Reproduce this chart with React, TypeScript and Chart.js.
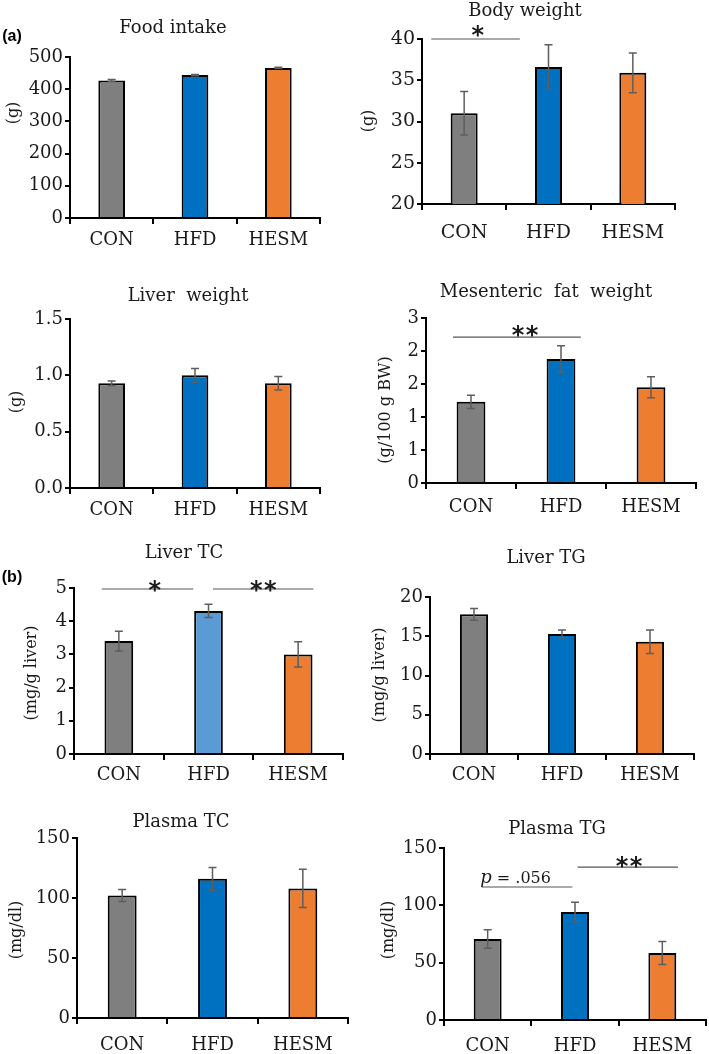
import React, { useEffect, useRef } from 'react';
import { Chart, registerables } from 'chart.js';

Chart.register(...registerables);

// ---------- data ----------
const categories = ['CON', 'HFD', 'HESM'];

const foodIntake = [427, 444, 466];
const foodIntakeErr = [3, 2, 2];

const bodyWeight = [31.0, 36.6, 35.9];
const bodyWeightErr = [2.65, 2.7, 2.4];

const liverWeight = [0.93, 1.0, 0.93];
const liverWeightErr = [0.02, 0.06, 0.06];

const mesentericFat = [1.23, 1.88, 1.45];
const mesentericFatErr = [0.1, 0.2, 0.16];

const liverTC = [3.4, 4.31, 3.0];
const liverTCErr = [0.3, 0.2, 0.38];

const liverTG = [17.8, 15.3, 14.3];
const liverTGErr = [0.75, 0.5, 1.5];

const plasmaTC = [102, 116, 108];
const plasmaTCErr = [5, 9.5, 16];

const plasmaTG = [70.6, 94.2, 58.4];
const plasmaTGErr = [8, 8.5, 10];

const colorsA = ['#7f7f7f', '#0070c0', '#ed7d31'];
const colorsB = ['#7f7f7f', '#5b9bd5', '#ed7d31'];

// significance annotations (x in category units, value in axis units)
const bodyWeightSig = [{ from: -0.39, to: 0.66, value: 40, label: '*', at: 0.16, dy: 8 }];
const mesentericSig = [{ from: -0.2, to: 1.22, value: 2.21, label: '**', at: 0.6, dy: 6 }];
const liverTCSig = [
  { from: -0.19, to: 0.83, value: 4.97, label: '*', at: 0.4, dy: 3 },
  { from: 1.05, to: 2.17, value: 4.97, label: '**', at: 1.61, dy: 3 },
];
const plasmaTGSig = [
  { from: -0.07, to: 0.97, value: 116, label: 'p = .056', at: 0.32, dy: 10 },
  { from: 1.03, to: 2.18, value: 133.4, label: '**', at: 1.62, dy: 5 },
];

type Sig = { from: number; to: number; value: number; label: string; at: number; dy: number };

type Panel = {
  key: string;
  values: number[];
  errors: number[];
  colors: string[];
  min: number;
  max: number;
  step: number;
  fmt?: (v: number) => string;
  sig: Sig[];
  title: string;
  titleXY: [number, number];
  yLabel: string;
  yLabelXY: [number, number];
  tag?: string;
  tagXY?: [number, number];
  canvas: [number, number, number, number]; // left, top, right, bottom
  area: [number, number, number, number];
  xPad: number;
  tickSize: number;
};

const panels: Panel[] = [
  {
    key: 'food', values: foodIntake, errors: foodIntakeErr, colors: colorsA, min: 0, max: 500, step: 100, sig: [],
    title: 'Food intake', titleXY: [173, 28], yLabel: '(g)', yLabelXY: [14, 113], tag: '(a)', tagXY: [12, 37],
    canvas: [0, 0, 354, 262], area: [70, 57, 320, 218], xPad: 6, tickSize: 18,
  },
  {
    key: 'bw', values: bodyWeight, errors: bodyWeightErr, colors: colorsA, min: 20, max: 40, step: 5, sig: bodyWeightSig,
    title: 'Body weight', titleXY: [525, 11], yLabel: '(g)', yLabelXY: [369, 121],
    canvas: [354, 0, 709, 262], area: [422, 39, 675, 204], xPad: 12, tickSize: 19,
  },
  {
    key: 'lw', values: liverWeight, errors: liverWeightErr, colors: colorsA, min: 0, max: 1.5, step: 0.5,
    fmt: (v) => v.toFixed(1), sig: [],
    title: 'Liver  weight', titleXY: [188, 296], yLabel: '(g)', yLabelXY: [17, 402],
    canvas: [0, 262, 354, 530], area: [70, 319, 320, 488], xPad: 6, tickSize: 18,
  },
  {
    key: 'mf', values: mesentericFat, errors: mesentericFatErr, colors: colorsA, min: 0, max: 2.5, step: 0.5,
    fmt: (v) => String(Math.round(v)), sig: mesentericSig,
    title: 'Mesenteric  fat  weight', titleXY: [546, 292], yLabel: '(g/100 g BW)', yLabelXY: [386, 410],
    canvas: [354, 262, 709, 530], area: [426, 318, 696, 483], xPad: 8, tickSize: 18,
  },
  {
    key: 'ltc', values: liverTC, errors: liverTCErr, colors: colorsB, min: 0, max: 5, step: 1, sig: liverTCSig,
    title: 'Liver TC', titleXY: [184, 553], yLabel: '(mg/g liver)', yLabelXY: [32, 673], tag: '(b)', tagXY: [12, 578],
    canvas: [0, 530, 354, 790], area: [74, 588, 343, 754], xPad: 5, tickSize: 18,
  },
  {
    key: 'ltg', values: liverTG, errors: liverTGErr, colors: colorsA, min: 0, max: 20, step: 5, sig: [],
    title: 'Liver TG', titleXY: [546, 558], yLabel: '(mg/g liver)', yLabelXY: [380, 675],
    canvas: [354, 530, 709, 790], area: [430, 597, 694, 754], xPad: 5, tickSize: 18,
  },
  {
    key: 'ptc', values: plasmaTC, errors: plasmaTCErr, colors: colorsA, min: 0, max: 150, step: 50, sig: [],
    title: 'Plasma TC', titleXY: [181, 822], yLabel: '(mg/dl)', yLabelXY: [17, 930],
    canvas: [0, 790, 354, 1054], area: [77, 838, 348, 1018], xPad: 11, tickSize: 18,
  },
  {
    key: 'ptg', values: plasmaTG, errors: plasmaTGErr, colors: colorsA, min: 0, max: 150, step: 50, sig: plasmaTGSig,
    title: 'Plasma TG', titleXY: [557, 829], yLabel: '(mg/dl)', yLabelXY: [389, 930],
    canvas: [354, 790, 709, 1054], area: [444, 848, 706, 1020], xPad: 10, tickSize: 18,
  },
];

const TEXT = '#1a1a1a';
const SERIF = '"DejaVu Serif", serif';

const drawStar = (ctx: CanvasRenderingContext2D, cx: number, cy: number) => {
  ctx.font = 'bold 24px "DejaVu Sans"';
  const m = ctx.measureText('*');
  const off = (m.actualBoundingBoxAscent - m.actualBoundingBoxDescent) / 2;
  ctx.textAlign = 'center';
  ctx.textBaseline = 'alphabetic';
  ctx.fillText('*', cx, cy + off);
};

const decoPlugin = {
  id: 'deco',
  afterDatasetsDraw(chart: any, _args: any, opts: any) {
    const ctx: CanvasRenderingContext2D = chart.ctx;
    const ys = chart.scales.y;
    const xs = chart.scales.x;
    const meta = chart.getDatasetMeta(0);
    const vals: number[] = chart.data.datasets[0].data;
    ctx.save();
    // error bars
    ctx.strokeStyle = '#5e5e5e';
    ctx.lineWidth = 1.5;
    meta.data.forEach((bar: any, i: number) => {
      const v = vals[i];
      const e = opts.errors[i];
      const x = bar.x;
      const t = ys.getPixelForValue(v + e);
      const b = ys.getPixelForValue(v - e);
      ctx.beginPath();
      ctx.moveTo(x, t);
      ctx.lineTo(x, b);
      ctx.moveTo(x - 4, t);
      ctx.lineTo(x + 4, t);
      ctx.moveTo(x - 4, b);
      ctx.lineTo(x + 4, b);
      ctx.stroke();
    });
    // significance
    (opts.sig as Sig[]).forEach((s) => {
      const y = ys.getPixelForValue(s.value);
      const x0 = xs.getPixelForValue(s.from);
      const x1 = xs.getPixelForValue(s.to);
      ctx.strokeStyle = '#555';
      ctx.lineWidth = 1.2;
      ctx.beginPath();
      ctx.moveTo(x0, y);
      ctx.lineTo(x1, y);
      ctx.stroke();
      const cx = xs.getPixelForValue(s.at);
      const cy = y - s.dy;
      ctx.fillStyle = TEXT;
      if (s.label.startsWith('p')) {
        ctx.textBaseline = 'alphabetic';
        ctx.textAlign = 'left';
        ctx.font = 'italic 18px ' + SERIF;
        const wp = ctx.measureText('p').width;
        ctx.font = '16px ' + SERIF;
        const rest = ' = .056';
        const wr = ctx.measureText(rest).width;
        const start = cx - (wp + wr) / 2;
        const base = cy + 6;
        ctx.font = 'italic 18px ' + SERIF;
        ctx.fillText('p', start, base);
        ctx.font = '16px ' + SERIF;
        ctx.fillText(rest, start + wp, base);
      } else {
        const n = s.label.length;
        for (let k = 0; k < n; k++) {
          drawStar(ctx, cx + (k - (n - 1) / 2) * 14, cy);
        }
      }
    });
    ctx.restore();
  },
  afterDraw(chart: any, _args: any, opts: any) {
    const ctx: CanvasRenderingContext2D = chart.ctx;
    const [ox, oy] = opts.origin;
    ctx.save();
    ctx.fillStyle = TEXT;
    ctx.textAlign = 'center';
    ctx.textBaseline = 'middle';
    ctx.font = '18px ' + SERIF;
    ctx.fillText(opts.title, opts.titleXY[0] - ox, opts.titleXY[1] - oy);
    // y label
    ctx.save();
    ctx.translate(opts.yLabelXY[0] - ox, opts.yLabelXY[1] - oy);
    ctx.rotate(-Math.PI / 2);
    ctx.font = '16px ' + SERIF;
    ctx.fillText(opts.yLabel, 0, 0);
    ctx.restore();
    if (opts.tag) {
      ctx.font = 'bold 16px "Liberation Sans", sans-serif';
      ctx.fillStyle = '#000';
      ctx.fillText(opts.tag, opts.tagXY[0] - ox, opts.tagXY[1] - oy);
    }
    ctx.restore();
  },
};

function PanelChart({ p }: { p: Panel }) {
  const ref = useRef<HTMLCanvasElement | null>(null);
  const [cl, ct, cr, cb] = p.canvas;
  const [al, at, ar, ab] = p.area;
  useEffect(() => {
    if (!ref.current) return;
    const tickFont = { family: SERIF, size: p.tickSize };
    const chart = new Chart(ref.current, {
      type: 'bar',
      data: {
        labels: categories,
        datasets: [
          {
            data: p.values,
            backgroundColor: p.colors,
            borderColor: '#000',
            borderWidth: 2,
            barPercentage: 0.32,
            categoryPercentage: 1,
          },
        ],
      },
      options: {
        responsive: false,
        animation: false,
        devicePixelRatio: 1,
        layout: { padding: { left: 0, top: at - ct, right: cr - ar, bottom: 0 } },
        plugins: {
          legend: { display: false },
          tooltip: { enabled: false },
          title: { display: false },
          deco: {
            errors: p.errors,
            sig: p.sig,
            title: p.title,
            titleXY: p.titleXY,
            yLabel: p.yLabel,
            yLabelXY: p.yLabelXY,
            tag: p.tag,
            tagXY: p.tagXY,
            origin: [cl, ct],
          },
        } as any,
        scales: {
          x: {
            grid: { offset: true, drawOnChartArea: false, drawTicks: true, tickLength: 6, color: '#000', lineWidth: 2 },
            border: { display: true, color: '#000', width: 2 },
            ticks: { font: tickFont, color: TEXT, padding: p.xPad, maxRotation: 0 },
            afterFit: (s: any) => {
              s.height = cb - ab;
            },
          },
          y: {
            min: p.min,
            max: p.max,
            grid: { drawOnChartArea: false, drawTicks: true, tickLength: 5, color: '#000', lineWidth: 2 },
            border: { display: true, color: '#000', width: 2 },
            ticks: {
              stepSize: p.step,
              font: tickFont,
              color: TEXT,
              padding: 2,
              callback: (v: any) => (p.fmt ? p.fmt(Number(v)) : String(v)),
            },
            afterFit: (s: any) => {
              s.width = al - cl;
            },
          },
        },
      } as any,
      plugins: [decoPlugin as any],
    });
    return () => chart.destroy();
  }, []);
  return (
    <canvas
      ref={ref}
      width={cr - cl}
      height={cb - ct}
      style={{ position: 'absolute', left: cl, top: ct, width: cr - cl, height: cb - ct }}
    />
  );
}

export default function App() {
  return (
    <div style={{ position: 'absolute', left: 0, top: 0, width: 709, height: 1054, background: '#fff', overflow: 'hidden' }}>
      {panels.map((p) => (
        <PanelChart key={p.key} p={p} />
      ))}
    </div>
  );
}
